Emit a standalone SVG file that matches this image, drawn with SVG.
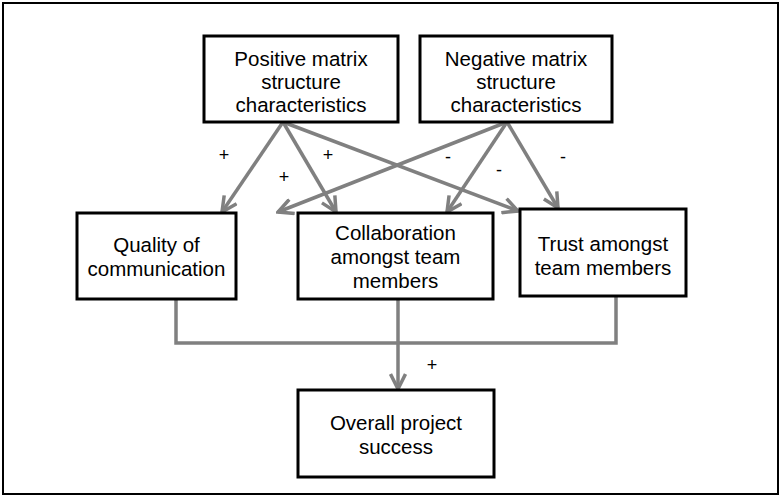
<svg xmlns="http://www.w3.org/2000/svg" width="780" height="497" viewBox="0 0 780 497">
<style>
.box{fill:#fff;stroke:#000;stroke-width:3}
.t{font-family:"Liberation Sans",Arial,sans-serif;font-size:20.5px;fill:#000;text-anchor:middle}
.s{font-family:"Liberation Sans",Arial,sans-serif;font-size:18px;fill:#000;text-anchor:middle}
.c{fill:none;stroke:#808080;stroke-width:3.5}
</style>
<defs>
<marker id="a" viewBox="0 0 18 18" refX="16" refY="9" markerWidth="18" markerHeight="18" orient="auto" markerUnits="userSpaceOnUse">
<path d="M1,1.5 L16,9 L1,16.5" fill="none" stroke="#808080" stroke-width="3.5"/>
</marker>
</defs>
<rect x="3" y="3" width="775" height="491" fill="#fff" stroke="#000" stroke-width="2"/>
<g id="connectors">
<path class="c" d="M283,122 L222,212" marker-end="url(#a)"/>
<path class="c" d="M283,122 L336,212" marker-end="url(#a)"/>
<path class="c" d="M283,122 L518,211" marker-end="url(#a)"/>
<path class="c" d="M507,122 L278,212" marker-end="url(#a)"/>
<path class="c" d="M507,122 L447,212" marker-end="url(#a)"/>
<path class="c" d="M507,122 L558,208" marker-end="url(#a)"/>
<path class="c" d="M176,300 L176,343 L616,343 L616,297"/>
<path class="c" d="M398,300 L398,389" marker-end="url(#a)"/>
<text class="s" x="224" y="161">+</text>
<text class="s" x="328" y="161">+</text>
<text class="s" x="284" y="183">+</text>
<text class="s" x="448" y="163">-</text>
<text class="s" x="499" y="176">-</text>
<text class="s" x="563" y="163">-</text>
<text class="s" x="432" y="371">+</text>
</g>
<g id="positive">
<rect class="box" x="204" y="36" width="194" height="86"/>
<text class="t" x="301" y="66">Positive matrix</text>
<text class="t" x="301" y="89">structure</text>
<text class="t" x="301" y="112">characteristics</text>
</g>
<g id="negative">
<rect class="box" x="420" y="36" width="192" height="86"/>
<text class="t" x="516" y="66">Negative matrix</text>
<text class="t" x="516" y="89">structure</text>
<text class="t" x="516" y="112">characteristics</text>
</g>
<g id="quality">
<rect class="box" x="77" y="213" width="159" height="86"/>
<text class="t" x="156.5" y="252">Quality of</text>
<text class="t" x="156.5" y="276">communication</text>
</g>
<g id="collaboration">
<rect class="box" x="298" y="213" width="195" height="86"/>
<text class="t" x="395.5" y="240">Collaboration</text>
<text class="t" x="395.5" y="264">amongst team</text>
<text class="t" x="395.5" y="288">members</text>
</g>
<g id="trust">
<rect class="box" x="520" y="209" width="166" height="87"/>
<text class="t" x="603" y="251">Trust amongst</text>
<text class="t" x="603" y="275">team members</text>
</g>
<g id="overall">
<rect class="box" x="298" y="390" width="196" height="87"/>
<text class="t" x="396" y="430">Overall project</text>
<text class="t" x="396" y="454">success</text>
</g>
</svg>
